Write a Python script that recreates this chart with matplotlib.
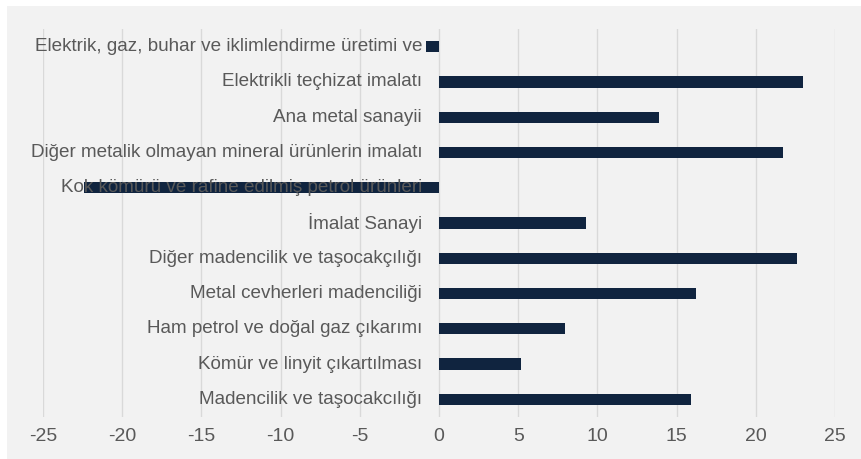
import matplotlib.pyplot as plt
from matplotlib.patches import Rectangle

categories = [
    "Madencilik ve taşocakcılığı",
    "Kömür ve linyit çıkartılması",
    "Ham petrol ve doğal gaz çıkarımı",
    "Metal cevherleri madenciliği",
    "Diğer madencilik ve taşocakçılığı",
    "İmalat Sanayi",
    "Kok kömürü ve rafine edilmiş petrol ürünleri",
    "Diğer metalik olmayan mineral ürünlerin imalatı",
    "Ana metal sanayii",
    "Elektrikli teçhizat imalatı",
    "Elektrik, gaz, buhar ve iklimlendirme üretimi ve",
]
values = [15.9, 5.15, 7.95, 16.2, 22.6, 9.25, -22.4, 21.7, 13.9, 23.0, -0.85]
xticks = [-25, -20, -15, -10, -5, 0, 5, 10, 15, 20, 25]

plt.rcParams['font.family'] = ['Liberation Sans', 'DejaVu Sans']

W, H = 862, 459
fig = plt.figure(figsize=(W / 100, H / 100), dpi=100, facecolor='white')
# grey panel behind the chart, white strip at top/left
fig.add_artist(Rectangle((7 / W, 0), 1 - 7 / W, 453 / H, transform=fig.transFigure,
                         facecolor='#f2f2f2', edgecolor='none', zorder=-10))

ax = fig.add_axes([43 / W, 1 - 417 / H, (835 - 43) / W, (417 - 29) / H])
ax.set_zorder(1)
ax.set_facecolor('none')

y = list(range(len(categories)))
ax.barh(y, values, height=0.32, color='#10243f', zorder=2)

# category labels sit just left of zero, drawn over the bars like in Excel
for yi, lab in zip(y, categories):
    ax.text(-1.07, yi, lab, ha='right', va='center', fontsize=13.6,
            color='#595959', zorder=3)

ax.set_xlim(-25, 25)
ax.set_ylim(-0.5, len(categories) - 0.5)
ax.set_xticks(xticks)
ax.set_xticklabels([str(t) for t in xticks])
ax.set_yticks([])

for s in ax.spines.values():
    s.set_visible(False)

ax.grid(axis='x', color='#d9d9d9', linewidth=1, zorder=1)
ax.set_axisbelow(True)
ax.tick_params(axis='x', length=0, pad=8, labelsize=14, labelcolor='#595959')

fig.savefig('out.png', dpi=100, facecolor=fig.get_facecolor())
